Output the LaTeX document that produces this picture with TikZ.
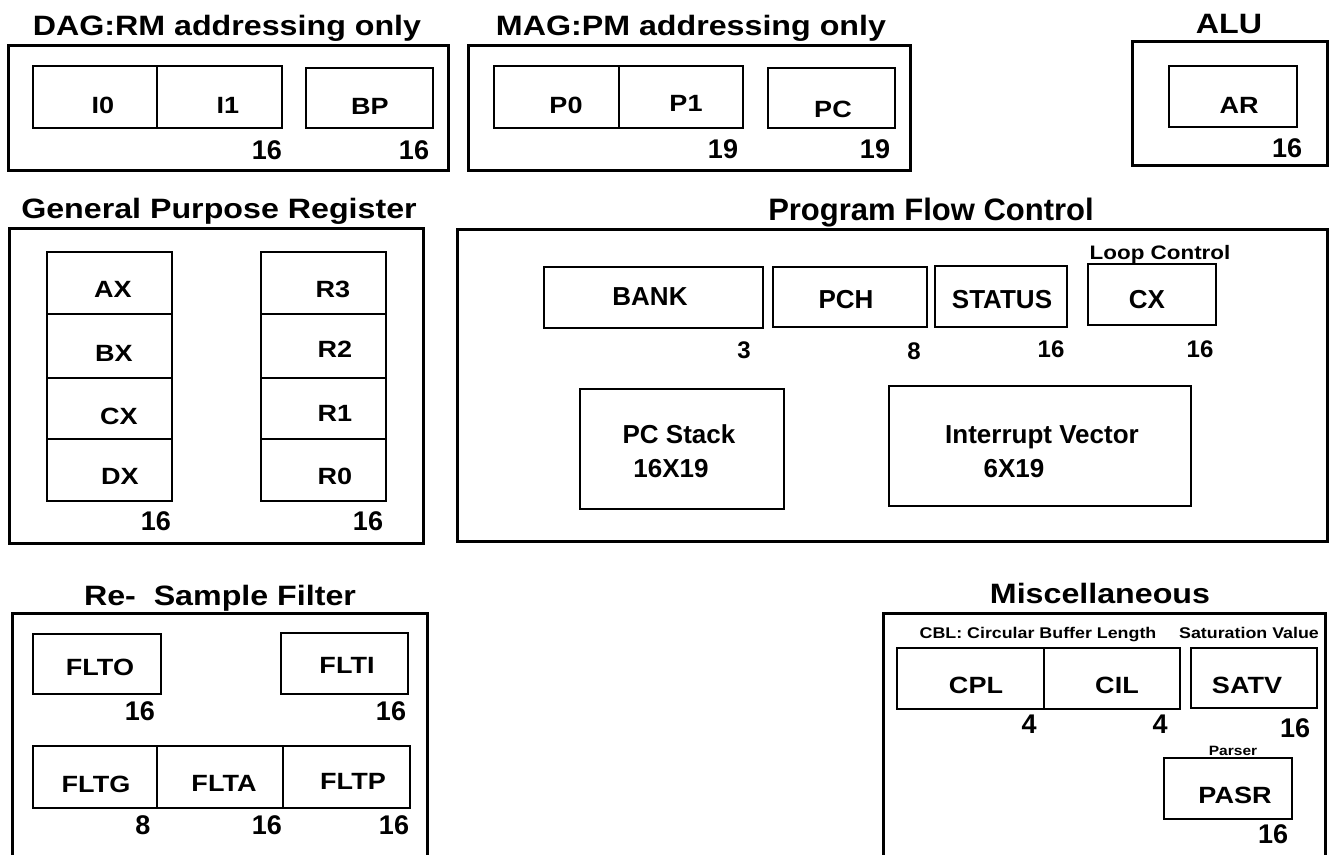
\documentclass[tikz,border=0pt]{standalone}
\usepackage{fontspec}
\newfontfamily\widefont[FakeStretch=1.15]{Liberation Sans}
\newfontfamily\normfont{Liberation Sans}
\newcommand\ttlfont{\widefont\bfseries\fontsize{28}{30}\selectfont}
\newcommand\lblfont{\widefont\bfseries\fontsize{23.5}{26}\selectfont}
\newcommand\numfont{\normfont\bfseries\fontsize{27}{30}\selectfont}
\newcommand\smlfont{\widefont\bfseries\fontsize{15.5}{18}\selectfont}
\newcommand\pfcttlfont{\normfont\bfseries\fontsize{31}{34}\selectfont}
\newcommand\pfclblfont{\normfont\bfseries\fontsize{26}{28}\selectfont}
\newcommand\pfcnumfont{\normfont\bfseries\fontsize{24}{27}\selectfont}
\tikzset{
  outer/.style={line width=3pt},
  regbox/.style={line width=1.4pt},
  ttl/.style={anchor=base, inner sep=0pt, font=\ttlfont},
  lbl/.style={anchor=base, inner sep=0pt, font=\lblfont},
  num/.style={anchor=base, inner sep=0pt, font=\numfont},
  sml/.style={anchor=base, inner sep=0pt, font=\smlfont},
  pttl/.style={anchor=base, inner sep=0pt, font=\pfcttlfont},
  plbl/.style={anchor=base, inner sep=0pt, font=\pfclblfont},
  pnum/.style={anchor=base, inner sep=0pt, font=\pfcnumfont},
}
\begin{document}
\begin{tikzpicture}[x=1pt,y=-1pt]
\fill[white] (0,0) rectangle (1330,854);
\useasboundingbox (0,0) rectangle (1330,854);

% ---------- DAG ----------
\node[ttl] (dagt) at (227,35) {DAG:RM addressing only};
\draw[outer] (8,45) rectangle (448,170);
\draw[regbox] (33,66) rectangle (282,128);
\draw[regbox] (157,66) -- (157,128);
\draw[regbox] (306,68) rectangle (433,128);
\node[lbl] (i0) at (103,113) {I0};
\node[lbl] (i1) at (228,113) {I1};
\node[lbl] (bp) at (370,114) {BP};
\node[num] (dagn1) at (267,159) {16};
\node[num] (dagn2) at (414,159) {16};

% ---------- MAG ----------
\node[ttl] (magt) at (691,35) {MAG:PM addressing only};
\draw[outer] (468,45) rectangle (910,170);
\draw[regbox] (494,66) rectangle (743,128);
\draw[regbox] (619,66) -- (619,128);
\draw[regbox] (768,68) rectangle (895,128);
\node[lbl] (p0) at (566,113) {P0};
\node[lbl] (p1) at (686,111) {P1};
\node[lbl] (pc) at (833,117) {PC};
\node[num] (magn1) at (723,158) {19};
\node[num] (magn2) at (875,158) {19};

% ---------- ALU ----------
\node[ttl] (alut) at (1229,33) {ALU};
\draw[outer] (1132,41) rectangle (1327,165);
\draw[regbox] (1169,66) rectangle (1297,127);
\node[lbl] (ar) at (1239,113) {AR};
\node[num] (alun) at (1287,157) {16};

% ---------- General Purpose Register ----------
\node[ttl] (gprt) at (219,218) {General Purpose Register};
\draw[outer] (9,228) rectangle (423,543);
\draw[regbox] (47,252) rectangle (172,501);
\draw[regbox] (47,314) -- (172,314) (47,378) -- (172,378) (47,439) -- (172,439);
\draw[regbox] (261,252) rectangle (386,501);
\draw[regbox] (261,314) -- (386,314) (261,378) -- (386,378) (261,439) -- (386,439);
\node[lbl] (ax) at (113,297) {AX};
\node[lbl] (bx) at (114,361) {BX};
\node[lbl] (cx) at (119,424) {CX};
\node[lbl] (dx) at (120,484) {DX};
\node[lbl] (r3) at (333,297) {R3};
\node[lbl] (r2) at (335,357) {R2};
\node[lbl] (r1) at (335,421) {R1};
\node[lbl] (r0) at (335,484) {R0};
\node[num] (gprn1) at (156,530) {16};
\node[num] (gprn2) at (368,530) {16};

% ---------- Program Flow Control ----------
\node[pttl] (pfct) at (931,220) {Program Flow Control};
\draw[outer] (457,229) rectangle (1327,541);
\draw[regbox] (544,267) rectangle (763,328);
\draw[regbox] (773,267) rectangle (927,327);
\draw[regbox] (935,266) rectangle (1067,327);
\draw[regbox] (1088,264) rectangle (1216,325);
\node[sml, font=\widefont\bfseries\fontsize{19.5}{22}\selectfont] (loopc) at (1160,259) {Loop Control};
\node[plbl] (bank) at (650,305) {BANK};
\node[plbl] (pch) at (846,308) {PCH};
\node[plbl] (status) at (1002,308) {STATUS};
\node[plbl] (cxl) at (1147,308) {CX};
\node[pnum] (pn1) at (744,358) {3};
\node[pnum] (pn2) at (914,359) {8};
\node[pnum] (pn3) at (1051,357) {16};
\node[pnum] (pn4) at (1200,357) {16};
\draw[regbox] (580,389) rectangle (784,509);
\draw[regbox] (889,386) rectangle (1191,506);
\node[plbl] (pcs) at (679,443) {PC Stack};
\node[plbl] (pcsz) at (671,477) {16X19};
\node[plbl] (iv) at (1042,443) {Interrupt Vector};
\node[plbl] (ivsz) at (1014,477) {6X19};

% ---------- Re-Sample Filter ----------
\node[ttl] (rsft) at (220,605) {Re-\ \ Sample Filter};
\draw[outer] (12,860) -- (12,613) -- (427,613) -- (427,860);
\draw[regbox] (33,634) rectangle (161,694);
\draw[regbox] (281,633) rectangle (408,694);
\node[lbl] (flto) at (100,675) {FLTO};
\node[lbl] (flti) at (347,673) {FLTI};
\node[num] (rn1) at (140,720) {16};
\node[num] (rn2) at (391,720) {16};
\draw[regbox] (33,746) rectangle (410,808);
\draw[regbox] (157,746) -- (157,808) (283,746) -- (283,808);
\node[lbl] (fltg) at (96,792) {FLTG};
\node[lbl] (flta) at (224,791) {FLTA};
\node[lbl] (fltp) at (353,789) {FLTP};
\node[num] (rn3) at (143,834) {8};
\node[num] (rn4) at (267,834) {16};
\node[num] (rn5) at (394,834) {16};

% ---------- Miscellaneous ----------
\node[ttl] (misct) at (1100,603) {Miscellaneous};
\draw[outer] (883,860) -- (883,613) -- (1325,613) -- (1325,860);
\node[sml] (cbl) at (1038,638) {CBL: Circular Buffer Length};
\node[sml] (satl) at (1249,638) {Saturation Value};
\draw[regbox] (897,648) rectangle (1180,709);
\draw[regbox] (1044,648) -- (1044,709);
\draw[regbox] (1191,648) rectangle (1317,708);
\node[lbl] (cpl) at (976,693) {CPL};
\node[lbl] (cil) at (1117,693) {CIL};
\node[lbl] (satv) at (1247,693) {SATV};
\node[num] (mn1) at (1029,733) {4};
\node[num] (mn2) at (1160,733) {4};
\node[num] (mn3) at (1295,737) {16};
\node[sml, font=\widefont\bfseries\fontsize{13.5}{16}\selectfont] (parser) at (1233,755) {Parser};
\draw[regbox] (1164,758) rectangle (1292,819);
\node[lbl] (pasr) at (1235,803) {PASR};
\node[num] (mn4) at (1273,843) {16};
\end{tikzpicture}
\end{document}
